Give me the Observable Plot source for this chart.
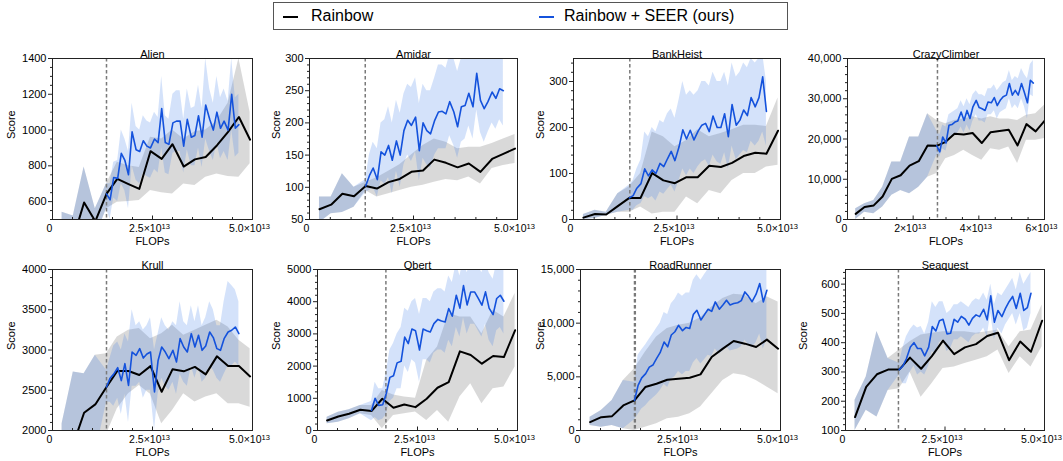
<!DOCTYPE html>
<html><head><meta charset="utf-8">
<script src="https://cdn.jsdelivr.net/npm/d3@7"></script>
<script src="https://cdn.jsdelivr.net/npm/@observablehq/plot@0.6"></script>
<style>
body{margin:0;background:#fff;font-family:"Liberation Sans",Arial,sans-serif;}
#wrap{position:relative;width:1063px;height:461px;overflow:hidden;background:#fff;}
.panel{position:absolute;}
#legend{position:absolute;left:273px;top:2px;width:515px;height:28px;border:1px solid #555;box-sizing:border-box;font-size:16px;color:#000;}
#legend .sw{position:absolute;top:13px;height:2px;width:15px;}
#legend .lb{position:absolute;top:4px;line-height:18px;white-space:nowrap;}
</style></head><body>
<div id="wrap">
  <div id="legend">
    <div class="sw" style="left:9px;background:#000"></div><div class="lb" style="left:37px">Rainbow</div>
    <div class="sw" style="left:265px;background:#1452dc"></div><div class="lb" style="left:290px">Rainbow + SEER (ours)</div>
  </div>
</div>
<script>
// ---------- x positions (units of 1e13 FLOPs) ----------
const RX5 = [0.24,0.52,0.79,1.07,1.35,1.62,1.90,2.17,2.45,2.73,3.00,3.28,3.56,3.83,4.11,4.39,4.66,4.94];
const SX5 = [1.35,1.44,1.53,1.63,1.72,1.81,1.90,1.99,2.09,2.18,2.27,2.36,2.45,2.55,2.64,2.73,2.82,2.91,3.01,3.10,3.19,3.28,3.37,3.47,3.56,3.65,3.74,3.83,3.93,4.02,4.11,4.20,4.29,4.39,4.48,4.57,4.66];
const RX6 = [0.25,0.52,0.80,1.07,1.35,1.62,1.89,2.17,2.44,2.72,2.99,3.26,3.54,3.81,4.09,4.36,4.63,4.91,5.18,5.45,5.73,6.00];
const SX6 = [2.72,2.81,2.90,3.00,3.09,3.18,3.27,3.36,3.46,3.55,3.64,3.73,3.82,3.92,4.01,4.10,4.19,4.28,4.38,4.47,4.56,4.65,4.74,4.84,4.93,5.02,5.11,5.20,5.30,5.39,5.48,5.57,5.66];

// ---------- Alien ----------
const alienRainbow   = [400,395,595,490,643,727,698,671,882,839,921,796,836,849,914,990,1073,946];
const alienRainbowHi = [540,520,793,560,700,820,800,790,960,950,1000,950,990,1000,1050,1150,1400,1100];
const alienRainbowLo = [300,300,400,400,560,596,600,606,662,650,643,699,690,736,755,740,736,811];
const alienSeer   = [643,610,735,730,870,830,750,990,890,880,940,910,900,950,930,1120,930,920,1040,1050,1050,910,1060,960,970,1080,960,1140,1060,1000,1100,1010,1050,1000,1200,1010,1030];
const alienSeerHi = [700,700,820,830,1000,950,880,1150,1020,1000,1080,1050,1040,1100,1070,1300,1080,1060,1200,1220,1220,1060,1230,1120,1130,1250,1120,1400,1230,1150,1300,1180,1230,1160,1400,1180,1200];
const alienSeerLo = [560,500,620,600,700,660,560,800,720,700,760,740,730,780,760,900,760,750,870,880,880,760,890,800,800,900,790,950,880,830,930,840,880,830,1000,850,870];

// ---------- Amidar ----------
const amidarRainbow   = [66,73,90,86,102,98,108,113,124,126,143,138,131,137,124,144,152,160];
const amidarRainbowHi = [85,85,121,100,108,115,125,135,150,165,175,170,160,162,162,168,175,182];
const amidarRainbowLo = [45,59,61,69,95,85,90,95,100,103,108,112,110,116,105,129,134,137];
const amidarSeer   = [102,118,130,112,155,150,165,142,172,150,188,204,196,209,157,200,188,183,204,217,218,214,233,217,194,225,227,246,225,277,235,222,233,248,238,253,250];
const amidarSeerHi = [112,150,170,160,200,205,225,200,235,215,245,260,255,270,230,260,250,250,270,290,290,285,305,300,280,300,305,320,300,340,310,300,310,320,310,320,310];
const amidarSeerLo = [92,95,100,85,110,105,115,90,125,100,135,150,140,155,110,145,135,130,150,160,160,160,180,165,145,170,175,195,175,220,185,170,185,200,190,205,195];

// ---------- BankHeist ----------
const bankRainbow   = [4,12,11,29,47,47,101,85,79,92,92,117,114,123,138,145,143,193];
const bankRainbowHi = [11,20,16,56,71,100,190,180,158,172,195,180,187,195,205,205,202,264];
const bankRainbowLo = [0,2,9,16,16,27,12,16,16,49,34,63,56,85,100,100,114,118];
const bankSeer   = [47,52,68,78,110,95,108,100,122,115,132,148,128,158,195,175,194,173,192,205,209,191,225,200,200,230,180,250,205,216,238,226,265,245,265,310,235];
const bankSeerHi = [75,85,110,130,190,180,200,190,215,210,230,240,220,260,300,270,280,270,280,300,300,290,320,300,300,320,290,340,310,320,340,330,350,340,350,360,300];
const bankSeerLo = [20,20,30,35,50,45,50,40,60,55,65,75,60,85,110,95,110,100,115,125,130,115,140,125,120,145,110,160,130,140,150,145,170,160,170,190,160];

// ---------- CrazyClimber ----------
const crazyRainbow   = [1400,3100,3500,5700,10100,11000,13400,14500,18400,18300,19300,21300,21100,21500,19000,21700,22000,22300,18400,23700,21900,24500];
const crazyRainbowHi = [2700,3900,4700,8000,14300,14300,20500,20500,26300,24600,23800,24600,25000,25500,25000,25500,25000,25000,24600,25900,26300,28400];
const crazyRainbowLo = [0,1800,1400,3100,6000,7200,6400,8000,10500,11400,15100,15900,17200,15900,14700,17600,17200,18000,13900,19700,19700,20100];
const crazySeer   = [18300,16800,20500,19000,23400,23600,24200,24500,26700,24600,27100,25100,28000,29600,27800,27500,27100,29200,29000,30300,28300,29600,30500,30900,33800,30900,32100,30900,33800,31500,29000,34600,33900];
const crazySeerHi = [22000,21000,23500,23000,26000,26500,27000,27500,29500,28000,30000,28500,31000,32000,31000,31000,30500,32500,32500,33500,32000,33000,34000,34500,37000,34500,35500,35000,37500,36000,35000,38500,39500];
const crazySeerLo = [16000,15500,17500,17000,20000,20500,21000,21500,23000,21500,23500,22000,24500,26000,24500,24500,24000,26000,26000,27000,25000,26500,27000,27500,30000,27500,28500,27500,30000,28000,25000,31000,30500];

// ---------- Krull ----------
const krullRainbow   = [1650,1830,2220,2324,2540,2739,2739,2689,2800,2481,2760,2735,2790,2697,2921,2800,2800,2672];
const krullRainbowHi = [2083,2726,2705,2934,2954,3162,3245,3266,3141,3203,3307,3183,3245,3307,3369,3286,3120,3017];
const krullRainbowLo = [1300,1400,1600,1700,1950,2270,2457,2560,2450,2083,2249,2457,2353,2415,2457,2332,2332,2290];
const krullSeer   = [2540,2650,2700,2780,2620,2830,2560,2975,2934,3017,2900,2950,2975,2480,2870,3037,2975,2892,2996,2851,3141,3037,2975,3203,3037,3183,2996,3050,3224,3154,3017,2996,3141,3224,3245,3286,3203];
const krullSeerHi = [2750,2900,3050,3100,3000,3200,3100,3500,3300,3350,3250,3300,3400,3000,3200,3400,3300,3250,3350,3300,3600,3350,3300,3550,3350,3550,3300,3400,3600,3500,3300,3300,3600,3850,3800,3750,3600];
const krullSeerLo = [2350,2350,2300,2400,2200,2450,2100,2550,2550,2600,2400,2500,2500,2000,2450,2650,2550,2500,2600,2450,2700,2600,2550,2800,2650,2800,2600,2650,2800,2750,2650,2600,2700,2800,2800,2850,2800];

// ---------- Qbert ----------
const qbertRainbow   = [311,436,519,643,602,985,705,809,726,985,1328,1504,2458,2344,2075,2313,2282,3112];
const qbertRainbowHi = [415,570,643,778,778,1245,1100,1037,1000,2178,2593,3630,3527,3527,3008,3734,3527,4253];
const qbertRainbowLo = [207,259,363,519,467,52,467,519,571,311,622,259,1037,1452,830,1297,1348,1971];
const qbertSeer   = [622,1000,780,800,1150,1650,1700,2100,2150,2900,2700,3150,3100,2500,3150,3100,3060,3320,3450,3400,3371,3786,3550,4200,3800,4500,3900,4300,4300,4100,3890,4305,3800,3600,4100,4200,4015];
const qbertSeerHi = [900,1500,1300,1300,1800,2500,2700,3000,3200,3800,3700,4000,4100,3600,4100,4100,4000,4300,4400,4400,4300,4800,4600,5200,4800,5300,4900,5200,5300,5100,4900,5300,4900,4700,5200,5300,5100];
const qbertSeerLo = [300,400,300,350,500,900,1000,1300,1300,2000,1800,2200,2100,1500,2200,2200,2100,2400,2500,2500,2400,2800,2600,3200,2900,3500,3000,3300,3300,3100,2900,3300,2800,2600,3100,3200,3000];

// ---------- RoadRunner ----------
const roadRainbow   = [778,1245,1338,2334,2800,4046,4357,4730,4824,4917,5228,6846,7624,8340,8091,7780,8465,7624];
const roadRainbowHi = [1245,1867,2800,4668,5757,7300,8700,9500,9800,10000,10500,11500,12300,12700,12600,11800,12450,11980];
const roadRainbowLo = [467,311,467,156,0,311,622,1089,1245,1556,2178,3423,4668,5290,5135,4668,4046,3423];
const roadSeer   = [2800,4200,4900,5300,5900,6100,6700,7250,8247,7800,8900,9200,9800,9300,9600,9500,10800,11200,10300,10800,11300,11100,11981,11300,11700,12137,11700,11826,11900,12100,12915,12500,12000,12700,13693,11981,13070];
const roadSeerHi = [4500,7000,7500,8000,8500,9000,9500,10000,11000,10800,11800,12200,12800,12500,12800,12800,14000,14500,14000,14500,15000,15000,15500,15000,15500,16000,15500,15500,15500,15500,16000,15500,15500,16000,16500,15000,16000];
const roadSeerLo = [1000,1500,2000,2300,2700,3000,3300,3700,4300,4000,4800,5000,5500,5200,5500,5500,6300,6700,6200,6600,7000,6900,7600,7100,7400,7800,7400,7500,7600,7800,8400,8000,7700,8200,9000,7600,8500];

// ---------- Seaquest ----------
const seaRainbow   = [146,249,292,308,308,349,311,354,407,361,384,395,423,434,340,404,369,475];
const seaRainbowHi = [203,283,438,346,375,403,426,432,437,437,437,432,437,443,386,437,443,529];
const seaRainbowLo = [100,169,146,237,243,300,214,260,312,317,329,340,352,375,295,352,317,386];
const seaSeer   = [308,320,345,385,400,380,380,355,385,455,440,475,480,430,432,480,470,490,480,460,483,495,489,514,478,560,470,510,489,517,540,558,517,569,510,520,569];
const seaSeerHi = [330,380,420,445,460,450,455,430,470,540,520,540,540,500,510,530,530,540,530,520,540,550,545,570,545,600,530,570,560,580,600,620,580,640,600,620,640];
const seaSeerLo = [290,260,260,300,320,290,300,290,320,370,360,400,410,370,380,410,410,420,410,400,420,430,430,450,420,500,410,450,430,460,480,500,460,500,440,450,500];

// ---------- freeze points (dashed lines), ticks ----------
const vlines = {Alien:[1.35], Amidar:[1.34], BankHeist:[1.36], CrazyClimber:[2.74], Krull:[1.35], Qbert:[1.71], RoadRunner:[1.35,1.37], Seaquest:[1.33]};
const xMajor5 = [0,2.5,5], xMajor6 = [0,2,4,6];
const xMinor5 = [0.5,1,1.5,2,3,3.5,4,4.5], xMinor6 = [0.5,1,1.5,2.5,3,3.5,4.5,5,5.5];

const BLUE = "#1452dc";
const FONT = '"Liberation Sans", Arial, Helvetica, sans-serif';
const fmtPlain = d3.format("d"), fmtComma = d3.format(",");
const fmtX5 = d => d === 0 ? "0" : d.toFixed(1) + "×10¹³";
const fmtX6 = d => d === 0 ? "0" : d + "×10¹³";
const rng = (a,b,s) => d3.range(a, b + s/2, s);
const SUP = {"⁰":"0","¹":"1","²":"2","³":"3","⁴":"4","⁵":"5","⁶":"6","⁷":"7","⁸":"8","⁹":"9"};

const panels = [
  {title:"Alien", rx:RX5, ry:alienRainbow, rhi:alienRainbowHi, rlo:alienRainbowLo, sx:SX5, sy:alienSeer, shi:alienSeerHi, slo:alienSeerLo,
   yDomain:[500,1400], yMajor:[600,800,1000,1200,1400], yStep:50, yFmt:fmtPlain, xMax:5, fx:52, fy:58, fw:200, scoreX:11},
  {title:"Amidar", rx:RX5, ry:amidarRainbow, rhi:amidarRainbowHi, rlo:amidarRainbowLo, sx:SX5, sy:amidarSeer, shi:amidarSeerHi, slo:amidarSeerLo,
   yDomain:[50,300], yMajor:[50,100,150,200,250,300], yStep:10, yFmt:fmtPlain, xMax:5, fx:309, fy:58, fw:208, scoreX:276},
  {title:"BankHeist", rx:RX5, ry:bankRainbow, rhi:bankRainbowHi, rlo:bankRainbowLo, sx:SX5, sy:bankSeer, shi:bankSeerHi, slo:bankSeerLo,
   yDomain:[0,350], yMajor:[0,100,200,300], yStep:20, yFmt:fmtPlain, xMax:5, fx:573, fy:58, fw:207, scoreX:540},
  {title:"CrazyClimber", rx:RX6, ry:crazyRainbow, rhi:crazyRainbowHi, rlo:crazyRainbowLo, sx:SX6, sy:crazySeer, shi:crazySeerHi, slo:crazySeerLo,
   yDomain:[0,40000], yMajor:[0,10000,20000,30000,40000], yStep:2000, yFmt:fmtComma, xMax:6, fx:847, fy:58, fw:197, scoreX:null},
  {title:"Krull", rx:RX5, ry:krullRainbow, rhi:krullRainbowHi, rlo:krullRainbowLo, sx:SX5, sy:krullSeer, shi:krullSeerHi, slo:krullSeerLo,
   yDomain:[2000,4000], yMajor:[2000,2500,3000,3500,4000], yStep:100, yFmt:fmtPlain, xMax:5, fx:52, fy:269, fw:200, scoreX:11},
  {title:"Qbert", rx:RX5, ry:qbertRainbow, rhi:qbertRainbowHi, rlo:qbertRainbowLo, sx:SX5, sy:qbertSeer, shi:qbertSeerHi, slo:qbertSeerLo,
   yDomain:[0,5000], yMajor:[0,1000,2000,3000,4000,5000], yStep:200, yFmt:fmtPlain, xMax:5, fx:317, fy:269, fw:200, scoreX:276},
  {title:"RoadRunner", rx:RX5, ry:roadRainbow, rhi:roadRainbowHi, rlo:roadRainbowLo, sx:SX5, sy:roadSeer, shi:roadSeerHi, slo:roadSeerLo,
   yDomain:[0,15000], yMajor:[0,5000,10000,15000], yStep:1000, yFmt:fmtComma, xMax:5, fx:580, fy:269, fw:200, scoreX:540},
  {title:"Seaquest", rx:RX5, ry:seaRainbow, rhi:seaRainbowHi, rlo:seaRainbowLo, sx:SX5, sy:seaSeer, shi:seaSeerHi, slo:seaSeerLo,
   yDomain:[100,650], yMajor:[100,200,300,400,500,600], yStep:20, yFmt:fmtPlain, xMax:5, fx:845, fy:269, fw:199, scoreX:803}
];

const FH = 161, ML = 52, MR = 16, MT = 20, MB = 36;
const wrap = document.getElementById("wrap");

for (const p of panels) {
  const rain = p.rx.map((x,i) => ({x, y:p.ry[i], lo:p.rlo[i], hi:p.rhi[i]}));
  const seer = p.sx.map((x,i) => ({x, y:p.sy[i], lo:p.slo[i], hi:p.shi[i]}));
  const blueBand = rain.filter(d => d.x < p.sx[0]).concat(seer);
  const yMinor = rng(p.yDomain[0], p.yDomain[1], p.yStep).filter(v => !p.yMajor.includes(v));
  const five = p.xMax === 5;
  const xMaj = five ? xMajor5 : xMajor6, xMin = five ? xMinor5 : xMinor6;
  const marks = [
    Plot.areaY(rain, {x:"x", y1:"lo", y2:"hi", fill:"#808080", fillOpacity:0.3, clip:true}),
    Plot.areaY(blueBand, {x:"x", y1:"lo", y2:"hi", fill:"#3b7be8", fillOpacity:0.22, clip:true}),
    Plot.ruleX(vlines[p.title], {stroke:"#7a7a7a", strokeWidth:1.5, strokeDasharray:"3.5,2.5"}),
    Plot.lineY(rain, {x:"x", y:"y", stroke:"#000", strokeWidth:2, clip:true}),
    Plot.lineY(seer, {x:"x", y:"y", stroke:BLUE, strokeWidth:1.6, clip:true}),
    // inward x ticks
    Plot.tickX(xMin, {x:d => d, insetTop:FH - 2, stroke:"#222"}),
    Plot.tickX(xMaj, {x:d => d, insetTop:FH - 3.5, stroke:"#222"}),
    Plot.frame({stroke:"#222"}),
    Plot.axisY({ticks:yMinor, tickSize:2, tickFormat:() => "", label:null, stroke:"#222"}),
    Plot.axisY({ticks:p.yMajor, tickSize:4, tickPadding:2, tickFormat:p.yFmt, label:null, stroke:"#222", fill:"#000", fontSize:11}),
    Plot.axisX({ticks:xMaj, tickSize:0, tickPadding:5, dx:-3, tickFormat:five ? fmtX5 : fmtX6, label:null, fill:"#000", fontSize:10.5}),
    Plot.text([p.title], {frameAnchor:"top", dy:-8, fill:"#000"}),
    Plot.text(["FLOPs"], {frameAnchor:"bottom", dy:25, fill:"#000"})
  ];
  if (p.scoreX != null) marks.push(Plot.text(["Score"], {frameAnchor:"left", dx:p.scoreX - p.fx, rotate:-90, fill:"#000"}));
  const chart = Plot.plot({
    width: p.fw + ML + MR, height: FH + MT + MB,
    marginLeft: ML, marginRight: MR, marginTop: MT, marginBottom: MB,
    style: {fontFamily: FONT, fontSize: "11px", color: "#000", background: "transparent", overflow: "visible"},
    x: {domain: [0, p.xMax]},
    y: {domain: p.yDomain},
    marks
  });
  // render the ×10^13 exponents as raised, smaller digits
  chart.querySelectorAll("text").forEach(t => {
    if (t.children.length) return;
    const m = t.textContent.match(/^(.*×10)([⁰¹²³⁴⁵⁶⁷⁸⁹]+)$/);
    if (!m) return;
    t.textContent = m[1];
    const ts = document.createElementNS("http://www.w3.org/2000/svg", "tspan");
    ts.setAttribute("dy", "-0.45em");
    ts.setAttribute("font-size", "0.72em");
    ts.textContent = [...m[2]].map(c => SUP[c]).join("");
    t.appendChild(ts);
  });
  chart.classList.add("panel");
  chart.style.left = (p.fx - ML) + "px";
  chart.style.top = (p.fy - MT) + "px";
  wrap.appendChild(chart);
}
</script>
</body></html>
